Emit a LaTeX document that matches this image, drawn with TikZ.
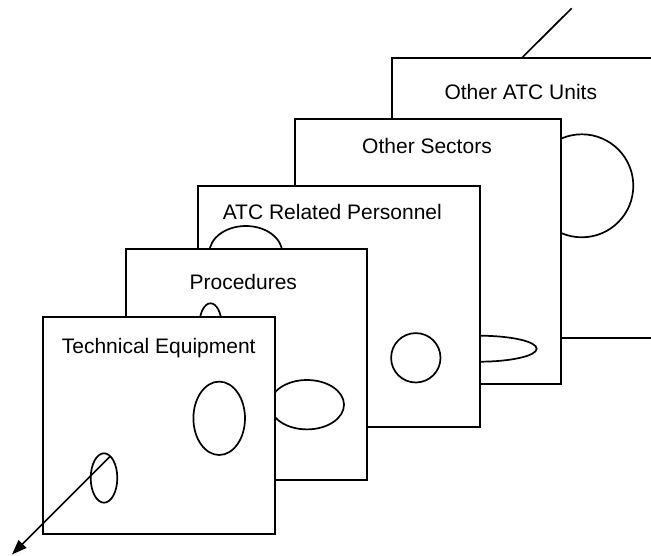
\documentclass[tikz,border=0pt]{standalone}
\usepackage{fontspec}
\setmainfont{Liberation Sans}
\usetikzlibrary{arrows.meta}
\begin{document}
\begin{tikzpicture}[x=1pt,y=-1pt,
  panel/.style={draw=black,fill=white,line width=1.7pt},
  blob/.style={draw=black,fill=white,line width=1.7pt},
  axisline/.style={draw=black,line width=1.7pt},
  lbl/.style={anchor=base,inner sep=0pt,font=\fontsize{21}{25}\selectfont}]
\useasboundingbox (0,0) rectangle (651,556);
\clip (0,0) rectangle (651,556);
% axis top part
\coordinate (axTop) at (571.7,8.3);
\coordinate (axTopEnd) at (522.7,57);
\draw[axisline] (axTop) -- (axTopEnd);
% panel 5: Other ATC Units
\path[panel] (391.7,57.7) rectangle (672,338.3);
\draw[blob] (581.8,185.8) circle [radius=51.5pt];
\node[lbl] (t5) at (520.8,100) {Other ATC Units};
% panel 4: Other Sectors
\path[panel] (295,119.3) rectangle (561,384.3);
\draw[blob] (479,348.7) ellipse [x radius=57.7pt, y radius=13pt];
\node[lbl] (t4) at (427,154) {Other Sectors};
% panel 3: ATC Related Personnel
\path[panel] (198.3,185.7) rectangle (480,427);
\draw[blob] (245.8,253) ellipse [x radius=36.5pt, y radius=27pt];
\draw[blob] (415.8,357.8) circle [radius=24.7pt];
\node[lbl] (t3) at (332.3,220) {ATC Related Personnel};
% panel 2: Procedures
\path[panel] (126,249) rectangle (367.3,480);
\draw[blob] (210.5,325.3) ellipse [x radius=11.2pt, y radius=22pt];
\draw[blob] (307,404.7) ellipse [x radius=37pt, y radius=24.7pt];
\node[lbl] (t2) at (243.3,290) {Procedures};
% panel 1: Technical Equipment
\path[panel] (43.3,317.3) rectangle (275.3,534.3);
\draw[blob] (219.2,418.3) ellipse [x radius=25.8pt, y radius=36.7pt];
\draw[blob] (104,478) ellipse [x radius=13.3pt, y radius=24.7pt];
\node[lbl] (t1) at (158.7,353.3) {Technical Equipment};
% axis bottom part with arrow
\coordinate (axStart) at (110,456.5);
\coordinate (axTip) at (12,554.5);
\draw[axisline,-{Triangle[length=15pt,width=11pt]}] (axStart) -- (axTip);
\end{tikzpicture}
\end{document}
